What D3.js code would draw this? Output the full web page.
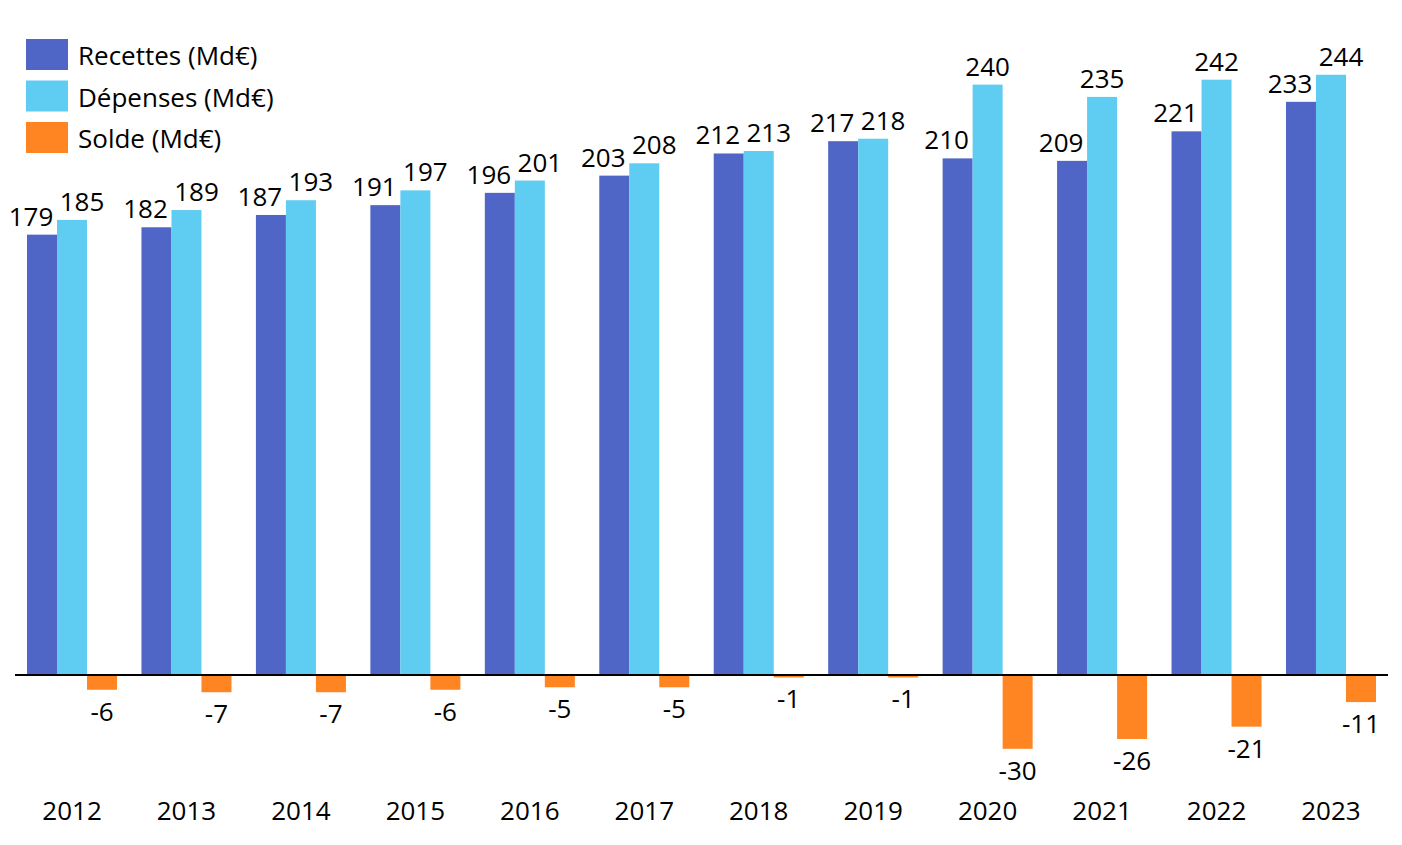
<!DOCTYPE html>
<html>
<head>
<meta charset="utf-8">
<script src="https://cdn.jsdelivr.net/npm/d3@7"></script>
<style>
  html, body { margin: 0; padding: 0; background: #fff; }
  svg { display: block; }
  text { font-family: "Open Sans", "Noto Sans", sans-serif; fill: #000; }
</style>
</head>
<body>
<svg id="chart" width="1402" height="845"></svg>
<script>
const years = ["2012","2013","2014","2015","2016","2017","2018","2019","2020","2021","2022","2023"];
const recettes = [179,182,187,191,196,203,212,217,210,209,221,233];
const depenses = [185,189,193,197,201,208,213,218,240,235,242,244];
const solde = [-6,-7,-7,-6,-5,-5,-1,-1,-30,-26,-21,-11];
const seriesNames = ["Recettes (Md€)","Dépenses (Md€)","Solde (Md€)"];
const seriesKeys = ["recettes","depenses","solde"];
const colors = ["#4F66C6","#5FCCF2","#FF8422"];

const svg = d3.select("#chart");
const fontSize = 26;

const x = d3.scaleBand().domain(years).range([15, 1388]).paddingInner(0.2136).paddingOuter(0.105);
const xs = d3.scaleBand().domain(seriesKeys).range([0, x.bandwidth()]);
const y = d3.scaleLinear().domain([-50, 250]).range([798, 60]);
const color = d3.scaleOrdinal().domain(seriesKeys).range(colors);

const data = years.map((yr, i) => ({
  year: yr,
  values: [
    {key: "recettes", v: recettes[i]},
    {key: "depenses", v: depenses[i]},
    {key: "solde", v: solde[i]}
  ]
}));

const groups = svg.append("g").selectAll("g").data(data).join("g")
  .attr("transform", d => `translate(${x(d.year)},0)`);

groups.selectAll("rect").data(d => d.values).join("rect")
  .attr("x", d => xs(d.key))
  .attr("width", xs.bandwidth())
  .attr("y", d => y(Math.max(0, d.v)))
  .attr("height", d => Math.abs(y(d.v) - y(0)))
  .attr("fill", d => color(d.key));

// labels
groups.each(function(d) {
  const g = d3.select(this);
  const r = d.values[0].v, dep = d.values[1].v, s = d.values[2].v;
  g.append("text")
    .attr("x", xs("recettes") + xs.bandwidth()/2 - 11)
    .attr("y", y(r) - 19)
    .attr("text-anchor", "middle").attr("dominant-baseline", "central")
    .style("font-size", fontSize + "px").text(r);
  const close = (dep - r) < 12;
  g.append("text")
    .attr("x", xs("depenses") + xs.bandwidth()/2 + (close ? 10 : 0))
    .attr("y", y(dep) - 19)
    .attr("text-anchor", "middle").attr("dominant-baseline", "central")
    .style("font-size", fontSize + "px").text(dep);
  g.append("text")
    .attr("x", xs("solde") + xs.bandwidth()/2)
    .attr("y", y(s) + 21)
    .attr("text-anchor", "middle").attr("dominant-baseline", "central")
    .style("font-size", fontSize + "px").text(s);
});

// zero axis line
svg.append("line")
  .attr("x1", 15).attr("x2", 1388)
  .attr("y1", y(0)).attr("y2", y(0))
  .attr("stroke", "#000").attr("stroke-width", 2);

// category labels
svg.append("g").selectAll("text").data(years).join("text")
  .attr("x", d => x(d) + x.bandwidth()/2)
  .attr("y", 810)
  .attr("text-anchor", "middle").attr("dominant-baseline", "central")
  .style("font-size", fontSize + "px")
  .text(d => d);

// legend
const legend = svg.append("g").selectAll("g").data(seriesNames).join("g")
  .attr("transform", (d, i) => `translate(26, ${39 + i * 41.5})`);
legend.append("rect").attr("width", 42).attr("height", 31)
  .attr("fill", (d, i) => colors[i]);
legend.append("text").attr("x", 52).attr("y", 16)
  .attr("dominant-baseline", "central")
  .style("font-size", fontSize + "px")
  .text(d => d);
</script>
</body>
</html>
